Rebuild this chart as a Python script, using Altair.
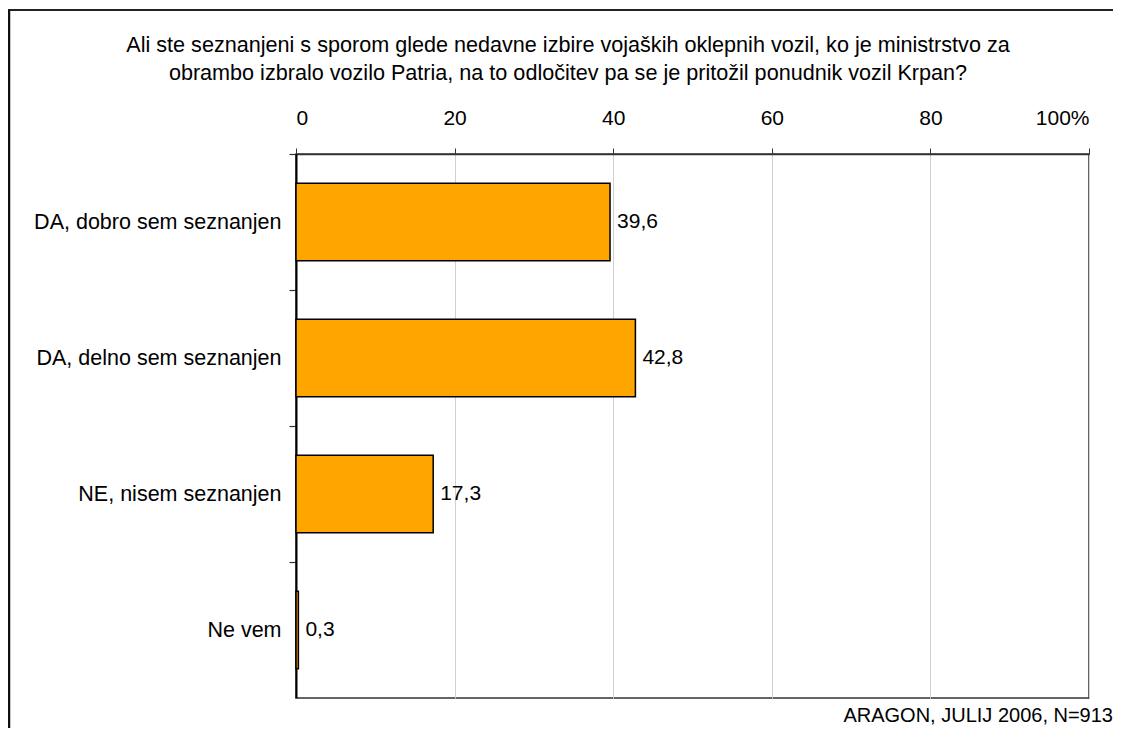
import altair as alt
import pandas as pd

categories = ["DA, dobro sem seznanjen", "DA, delno sem seznanjen", "NE, nisem seznanjen", "Ne vem"]
values = [39.6, 42.8, 17.3, 0.3]
x_ticks = [0, 20, 40, 60, 80, 100]
title_line1 = "Ali ste seznanjeni s sporom glede nedavne izbire vojaških oklepnih vozil, ko je ministrstvo za"
title_line2 = "obrambo izbralo vozilo Patria, na to odločitev pa se je pritožil ponudnik vozil Krpan?"
footer = "ARAGON, JULIJ 2006, N=913"

df = pd.DataFrame({
    "cat": categories,
    "val": values,
    "lab": [f"{v:.1f}".replace(".", ",") for v in values],
})

FONT = "Liberation Sans"
FS = 21
W, H = 793, 544
PI = 0.43
STEP = H / 4

x_enc = alt.X("val:Q",
              scale=alt.Scale(domain=[0, 100], nice=False, zero=True),
              axis=alt.Axis(orient="top", values=x_ticks, title=None,
                            labelExpr="datum.value == 100 ? '100%' : datum.label",
                            labelFont=FONT, labelFontSize=FS, labelColor="black",
                            tickSize=6, tickColor="#333", domainColor="#333", domainWidth=1.5,
                            labelPadding=20, grid=True, gridColor="#d0d0d0", gridWidth=1))
y_enc = alt.Y("cat:N", sort=None,
              scale=alt.Scale(paddingInner=PI, paddingOuter=PI / 2),
              axis=alt.Axis(title=None, labelFont=FONT, labelFontSize=21.5, labelColor="black",
                            labelLimit=0,
                            tickSize=7, tickColor="#333", tickWidth=1.2, domainColor="black",
                            domainWidth=2, labelPadding=8,
                            tickOffset=-STEP / 2, labelOffset=STEP / 2, grid=False))

base = alt.Chart(df)
bars = base.mark_bar(color="#FFA500", stroke="black", strokeWidth=1.5).encode(x=x_enc, y=y_enc)
labels = base.mark_text(align="left", baseline="middle", dx=7, font=FONT, fontSize=FS,
                        color="black").encode(x="val:Q", y=alt.Y("cat:N", sort=None), text="lab:N")

one = alt.Data(values=[{"a": 1}])
frame_top = alt.Chart(one).mark_rule(color="#222", strokeWidth=2).encode(
    x=alt.value(-288), x2=alt.value(830), y=alt.value(-144))
frame_left = alt.Chart(one).mark_rule(color="#111", strokeWidth=2.5).encode(
    x=alt.value(-287), y=alt.value(-144), y2=alt.value(600))
t1 = alt.Chart(one).mark_text(align="center", baseline="middle", font=FONT, fontSize=21.6,
                              color="black", text=title_line1).encode(
    x=alt.value(272), y=alt.value(-108))
t2 = alt.Chart(one).mark_text(align="center", baseline="middle", font=FONT, fontSize=21.6,
                              color="black", text=title_line2).encode(
    x=alt.value(272), y=alt.value(-80))
foot = alt.Chart(one).mark_text(align="right", baseline="middle", font=FONT, fontSize=20,
                                color="black", text=footer).encode(
    x=alt.value(817), y=alt.value(562))

chart = alt.layer(bars, labels, frame_top, frame_left, t1, t2, foot).properties(
    width=W, height=H,
    autosize=alt.AutoSizeParams(type="none"),
    padding={"left": 288, "top": 146, "right": 24, "bottom": 30},
).configure_view(stroke="#333", strokeWidth=1.5)

chart.save("out.html", embed_options={"renderer": "svg", "actions": False})
